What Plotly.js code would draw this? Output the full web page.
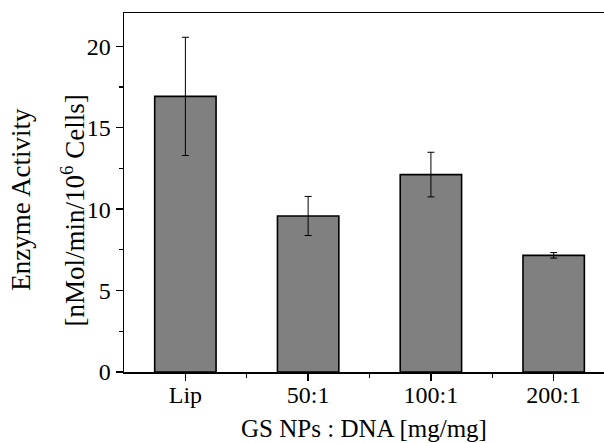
<!DOCTYPE html>
<html>
<head>
<meta charset="utf-8">
<script src="https://cdn.plot.ly/plotly-3.0.1.min.js"></script>
<style>html,body{margin:0;padding:0;background:#fff;overflow:hidden;}#chart{width:604px;height:443px;}</style>
</head>
<body>
<div id="chart"></div>
<script>
const categories = ['Lip', '50:1', '100:1', '200:1'];
const activity = [16.92, 9.58, 12.12, 7.16];
const activityErr = [3.63, 1.2, 1.37, 0.17];
const yTickVals = [0, 5, 10, 15, 20];
const xTitle = 'GS NPs : DNA [mg/mg]';
const yTitleLine1 = 'Enzyme Activity';
const yTitleLine2 = '[nMol/min/10<sup>6</sup> Cells]';

const positions = categories.map((c, i) => i);
const font = '"Liberation Serif", "Times New Roman", Times, serif';

const trace = {
  type: 'bar',
  x: positions,
  y: activity,
  width: 0.5,
  marker: {color: '#808080', line: {color: '#000', width: 1.6}},
  error_y: {type: 'data', array: activityErr, visible: true, color: '#000', thickness: 1, width: 3.5},
  hoverinfo: 'x+y'
};

const layout = {
  width: 604, height: 443,
  margin: {l: 124, r: 0, t: 13, b: 71},
  paper_bgcolor: '#fff', plot_bgcolor: '#fff',
  showlegend: false,
  font: {family: font, size: 24, color: '#000'},
  xaxis: {
    range: [-0.5, 3.41],
    tickmode: 'array', tickvals: positions, ticktext: categories,
    ticks: 'outside', ticklen: 7, tickwidth: 1.3, tickcolor: '#000',
    ticklabelstandoff: -6,
    minor: {tickmode: 'array', tickvals: [0.5, 1.5, 2.5], ticks: 'outside', ticklen: 4, tickwidth: 1.3, tickcolor: '#000'},
    showline: true, linecolor: '#000', linewidth: 1.5, mirror: true,
    showgrid: false, zeroline: false,
    tickfont: {family: font, size: 24},
    title: {text: xTitle, font: {family: font, size: 25}, standoff: 12}
  },
  yaxis: {
    range: [0, 22.04],
    tickmode: 'array', tickvals: yTickVals,
    ticks: 'outside', ticklen: 7, tickwidth: 1.3, tickcolor: '#000',
    minor: {dtick: 2.5, ticks: 'outside', ticklen: 4, tickwidth: 1.3, tickcolor: '#000'},
    showline: true, linecolor: '#000', linewidth: 1.5,
    showgrid: false, zeroline: false,
    tickfont: {family: font, size: 24}
  },
  annotations: [
    {text: yTitleLine1, xref: 'paper', yref: 'paper', x: 0, y: 0.48, xanchor: 'center', yanchor: 'middle',
     xshift: -103, textangle: -90, showarrow: false, font: {family: font, size: 27}},
    {text: yTitleLine2, xref: 'paper', yref: 'paper', x: 0, y: 0.45, xanchor: 'center', yanchor: 'middle',
     xshift: -51, textangle: -90, showarrow: false, font: {family: font, size: 27}}
  ]
};

Plotly.newPlot('chart', [trace], layout, {staticPlot: true, displayModeBar: false});
</script>
</body>
</html>
